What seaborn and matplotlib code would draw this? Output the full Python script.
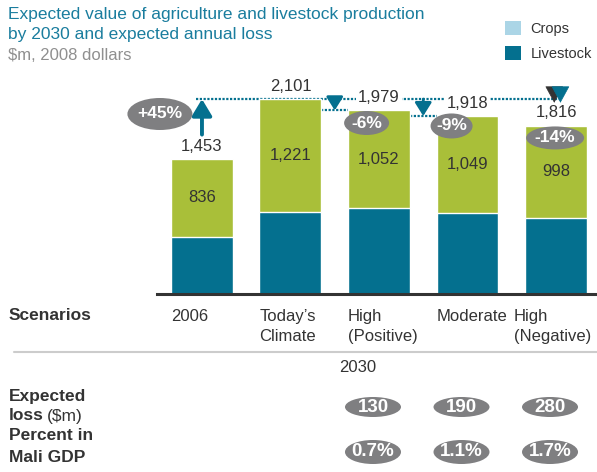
import numpy as np
import pandas as pd
import seaborn as sns
import matplotlib.pyplot as plt
from matplotlib.patches import Ellipse, Patch

sns.set_style('white')
plt.rcParams['font.family'] = ['Liberation Sans', 'DejaVu Sans']

# data
scenarios = ["2006", "Today\u2019s\nClimate", "High\n(Positive)", "Moderate", "High\n(Negative)"]
totals = [1453, 2101, 1979, 1918, 1816]
crops = [836, 1221, 1052, 1049, 998]
livestock = [617, 880, 927, 869, 818]
changes = ["+45%", "-6%", "-9%", "-14%"]
loss = [130, 190, 280]
gdp_share = [0.7, 1.1, 1.7]

teal = '#04708f'
green = '#a9bf39'
light_blue = '#abd5e6'
grey_badge = '#7f7f81'
dark = '#333333'

W, H = 597, 472
fig = plt.figure(figsize=(W / 100, H / 100), dpi=100)

# main axes: bottom at y=294px, top at y=60px, left at x=157px
ax = fig.add_axes([157 / W, (H - 294) / H, (W - 157) / W, 234 / H])
df = pd.DataFrame({'scenario': scenarios, 'total': totals, 'livestock': livestock})
sns.barplot(data=df, x='scenario', y='total', color=green, width=0.7, saturation=1,
            edgecolor='white', linewidth=1, ax=ax, zorder=2)
sns.barplot(data=df, x='scenario', y='livestock', color=teal, width=0.7, saturation=1,
            edgecolor='white', linewidth=1, ax=ax, zorder=2)
ax.set_xlim(-0.508, 4.463)
ax.set_ylim(0, 2522)
ax.set_xticks([])
ax.set_yticks([])
ax.set_xlabel('')
ax.set_ylabel('')
for s in ['top', 'left', 'right']:
    ax.spines[s].set_visible(False)
ax.spines['bottom'].set_color(dark)
ax.spines['bottom'].set_linewidth(2.2)

ypx = 2522 / 234  # data units per pixel
xpx = 1 / 88.5

# value labels
for i, (t, c, l) in enumerate(zip(totals, crops, livestock)):
    ax.text(i, t + 140, f"{t:,}", ha='center', va='center', fontsize=12, color=dark,
            bbox=dict(fc='white', ec='none', pad=1.2), zorder=5)
    ax.text(i, l + c / 2, f"{c:,}", ha='center', va='center', fontsize=12, color=dark, zorder=5)

# dotted reference lines and arrows
dots = (0, (1, 0.7))
ax.plot([-0.07, 4.05], [totals[1]] * 2, ls=dots, lw=1.6, color=teal, zorder=1, clip_on=False)
ax.annotate('', xy=(0, totals[1]), xytext=(0, totals[0] + 265),
            arrowprops=dict(arrowstyle='-|>,head_length=0.5,head_width=0.3', color=teal,
                            lw=2.8, shrinkA=0, shrinkB=0, mutation_scale=20))
for i in (2, 3):
    ax.plot([i - 0.65, i - 0.35], [totals[i]] * 2, ls=dots, lw=1.6, color=teal, zorder=1)
    ax.annotate('', xy=(i - 0.5, totals[i]), xytext=(i - 0.5, totals[1]),
                arrowprops=dict(arrowstyle='-|>,head_length=0.4,head_width=0.25', color=teal,
                                lw=2, shrinkA=0, shrinkB=0, mutation_scale=20))
for dx, col in ((3.98, dark), (4.05, teal)):
    ax.annotate('', xy=(dx, totals[1] - 40), xytext=(dx, totals[1] + 80),
                arrowprops=dict(arrowstyle='-|>,head_length=0.55,head_width=0.3', color=col,
                                lw=0.5, shrinkA=0, shrinkB=0, mutation_scale=20))

# change badges
badge_pos = [(-0.475, totals[0] + 487), (1.86, totals[2] - 136), (2.82, totals[3] - 107), (3.99, totals[4] - 134)]
badge_size = [(65, 32), (45, 24), (42, 25), (58, 23)]
for txt, (bx, by), (bw, bh) in zip(changes, badge_pos, badge_size):
    ax.add_patch(Ellipse((bx, by), bw * xpx, bh * ypx, fc=grey_badge, ec='none', zorder=6, clip_on=False))
    ax.text(bx, by, txt, ha='center', va='center', fontsize=12.5, fontweight='bold',
            color='white', zorder=7)

# overlay in pixel coordinates for titles and table
ov = fig.add_axes([0, 0, 1, 1], zorder=-1)
ov.set_xlim(0, W)
ov.set_ylim(H, 0)
ov.axis('off')

title_col = '#1a7d9e'
ov.text(8, 15, "Expected value of agriculture and livestock production", fontsize=12.5,
        color=title_col, va='center')
ov.text(8, 35, "by 2030 and expected annual loss", fontsize=12.5, color=title_col, va='center')
ov.text(8, 55, "$m, 2008 dollars", fontsize=12, color='#8f8f8f', va='center')

fig.legend(handles=[Patch(fc=light_blue, ec='none'), Patch(fc=teal, ec='none')],
           labels=['Crops', 'Livestock'], loc='upper left', bbox_to_anchor=(505 / W, 1 - 21 / H),
           frameon=False, fontsize=10.5, handlelength=1.1, handleheight=1.1, labelcolor=dark,
           handletextpad=0.65, labelspacing=0.68, borderpad=0, borderaxespad=0)

# scenario labels
fig.canvas.draw()
centers = [ax.transData.transform((i, 0))[0] for i in range(len(scenarios))]
for i, lab in enumerate(scenarios):
    lx = ax.transData.transform((i - 0.35, 0))[0]
    if i == len(scenarios) - 1:
        lx -= 11
    ov.text(lx, 309, lab, fontsize=12, color=dark, ha='left', va='top', linespacing=1.45)

ov.text(9, 316, "Scenarios", fontsize=12.5, fontweight='bold', color=dark, va='center')
ov.plot([14, W], [352, 352], color='#cccccc', lw=1.5)
ov.text(358, 368, "2030", fontsize=12, color=dark, ha='center', va='center')

ov.text(9, 397, "Expected", fontsize=12.5, fontweight='bold', color=dark, va='center')
ov.text(9, 416, "loss", fontsize=12.5, fontweight='bold', color=dark, va='center')
ov.text(47, 416, "($m)", fontsize=12.5, color=dark, va='center')
ov.text(9, 436, "Percent in", fontsize=12.5, fontweight='bold', color=dark, va='center')
ov.text(9, 458, "Mali GDP", fontsize=12.5, fontweight='bold', color=dark, va='center')

narrow = ['Liberation Sans Narrow', 'Liberation Sans', 'DejaVu Sans']
for k, (v, p) in enumerate(zip(loss, gdp_share)):
    cx = centers[k + 2] - 6
    ov.add_patch(Ellipse((cx, 407), 56, 20, fc=grey_badge, ec='none'))
    ov.text(cx, 407, f"{v}", fontsize=13.5, fontweight='bold', color='white',
            ha='center', va='center', family=narrow)
    ov.add_patch(Ellipse((cx, 452), 56, 24, fc=grey_badge, ec='none'))
    ov.text(cx, 452, f"{p}%", fontsize=13.5, fontweight='bold', color='white',
            ha='center', va='center', family=narrow)

fig.savefig('out.png', dpi=100)
